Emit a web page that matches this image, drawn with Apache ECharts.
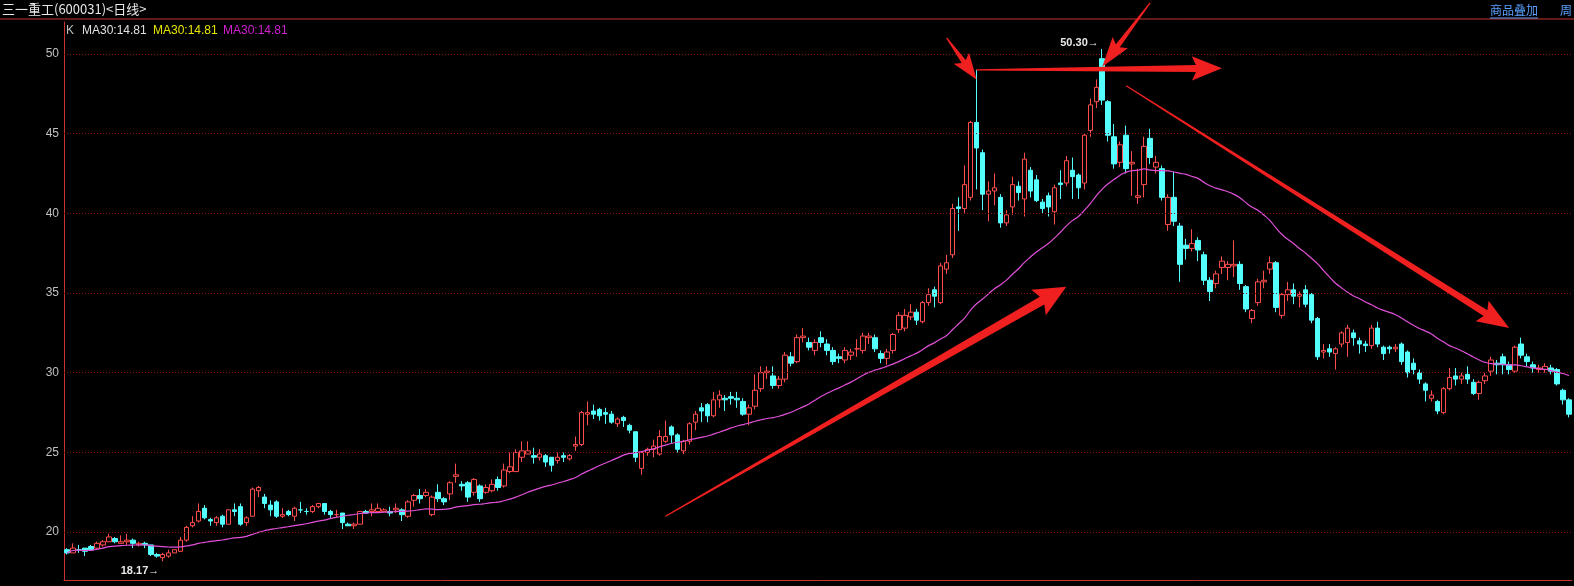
<!DOCTYPE html>
<html><head><meta charset="utf-8">
<script src="https://cdn.jsdelivr.net/npm/echarts@6/dist/echarts.min.js"></script>
<style>html,body{margin:0;padding:0;background:#000;}#c{width:1574px;height:586px;}</style>
</head><body><div id="c"></div>
<script>
// [open, close, low, high]
const ohlc = [
[18.9,18.7,18.6,19.0],[18.7,19.0,18.7,19.3],[18.9,18.9,18.7,19.2],[19.0,18.8,18.5,19.0],[19.1,18.9,18.9,19.2],[19.0,19.3,18.9,19.4],[19.2,19.4,19.1,19.5],[19.4,19.7,19.4,19.9],[19.6,19.4,19.3,19.7],[19.3,19.4,19.3,19.8],
[19.4,19.5,19.2,19.9],[19.5,19.3,19.0,19.6],[19.2,19.3,19.1,19.4],[19.3,19.2,19.0,19.4],[19.2,18.6,18.5,19.2],[18.6,18.5,18.4,18.7],[18.4,18.6,18.17,18.7],[18.5,18.7,18.4,18.9],[18.7,18.9,18.7,18.9],[18.8,19.5,18.8,19.7],
[19.5,20.3,19.4,20.4],[20.4,20.6,20.3,21.0],[20.7,21.3,20.6,21.8],[21.5,20.9,20.8,21.7],[20.8,20.7,20.4,20.9],[20.6,20.9,20.4,21.0],[21.0,20.5,20.3,21.1],[20.5,21.4,20.5,21.4],[21.4,21.3,21.0,21.8],[21.6,20.5,20.4,21.8],
[20.6,20.9,20.4,21.0],[21.0,22.7,21.0,22.8],[22.6,22.8,22.2,22.9],[22.2,21.8,21.5,22.4],[21.7,21.4,21.0,22.0],[21.9,21.0,20.9,22.0],[21.0,21.1,20.9,21.5],[21.3,21.1,21.0,21.4],[21.0,21.5,20.7,21.6],[21.4,21.4,21.2,21.9],
[21.3,21.3,21.1,21.5],[21.3,21.6,21.2,21.7],[21.6,21.8,21.5,21.8],[21.8,21.3,21.1,21.8],[21.3,21.1,20.9,21.4],[21.1,21.1,20.9,21.4],[21.2,20.6,20.2,21.2],[20.5,20.4,20.4,20.6],[20.4,20.5,20.2,20.6],[20.5,21.3,20.5,21.3],
[21.3,21.2,21.2,21.4],[21.3,21.4,21.0,21.8],[21.3,21.5,21.2,21.8],[21.3,21.4,21.3,21.5],[21.3,21.2,21.0,21.6],[21.4,21.5,21.2,21.8],
[21.4,21.1,20.7,21.5],[21.0,21.9,20.9,22.0],[22.0,22.3,21.6,22.4],[22.3,22.1,21.8,22.7],[22.3,22.5,22.2,22.7],[21.1,22.2,21.0,22.3],[22.5,22.1,21.9,23.0],[22.1,21.9,21.7,22.2],[22.4,23.1,22.0,23.2],[23.5,23.6,23.1,24.3],
[23.0,22.9,22.6,23.2],[23.1,22.2,21.9,23.2],[22.5,23.3,22.3,23.4],[22.9,22.1,21.9,23.0],[22.5,22.8,22.4,23.0],[22.6,23.0,22.5,23.3],[23.3,22.8,22.6,23.5],[22.9,23.9,22.8,24.3],[23.8,24.1,23.7,25.0],[23.8,25.0,23.8,25.2],
[24.7,25.1,24.4,25.7],[24.9,25.1,24.9,25.7],[24.8,24.7,24.3,25.3],[24.7,24.9,24.5,25.2],[24.8,24.4,24.1,24.9],[24.7,24.2,23.8,24.7],[24.5,24.7,24.3,25.0],[24.8,24.7,24.4,25.0],[24.6,24.8,24.5,24.9],[25.4,25.5,25.1,26.0],
[25.5,27.5,25.4,27.6],[27.4,27.5,26.7,28.2],[27.6,27.4,27.1,28.0],[27.7,27.3,27.0,27.8],[27.5,27.4,26.8,27.8],[27.4,26.9,26.8,27.6],[26.8,27.1,26.6,27.2],[27.2,27.0,26.6,27.3],[26.7,26.4,26.2,26.8],[26.3,24.7,24.4,26.3],
[24.0,25.0,23.6,25.1],[25.0,25.2,24.8,25.3],[25.2,25.4,24.7,25.8],[24.9,26.0,24.8,26.4],[25.7,26.0,25.6,27.0],[26.6,26.1,25.6,26.7],[26.1,25.2,25.0,26.2],[25.1,25.7,24.9,25.8],[25.7,26.8,25.5,26.9],[26.9,27.4,26.4,27.6],
[27.8,27.6,26.9,28.1],[28.0,27.3,26.9,28.1],[27.3,28.3,27.2,28.8],[28.3,28.6,27.8,28.9],[28.4,28.3,27.6,28.6],[28.5,28.4,28.0,28.8],[28.4,28.3,27.8,28.8],[28.2,27.4,27.3,28.4],[27.4,27.8,26.7,28.0],[27.9,28.9,27.7,29.9],
[29.0,30.0,28.8,30.4],[30.0,30.1,29.6,30.4],[29.8,29.2,29.0,30.4],[29.2,29.6,29.0,29.8],[29.6,31.1,29.4,31.3],[31.0,30.6,30.4,31.3],[30.7,32.2,30.6,32.4],[32.2,32.3,31.9,32.8],[31.9,31.6,31.4,32.2],[31.4,31.9,31.1,32.1],
[32.2,31.9,31.6,32.6],[31.8,31.4,31.1,32.1],[31.4,30.7,30.5,31.6],[31.0,30.9,30.6,31.2],[30.8,31.4,30.6,31.6],[31.1,31.3,30.8,31.5],[31.5,31.5,31.0,32.1],[31.4,32.3,31.2,32.5],[32.2,32.3,31.8,32.5],[32.2,31.5,31.3,32.4],
[31.2,30.9,30.6,31.4],[30.9,31.3,30.5,31.5],[31.4,32.4,31.2,32.5],
[32.7,33.6,32.5,33.8],[32.8,33.6,32.6,34.0],[33.5,33.8,33.3,34.3],[33.8,33.3,33.0,34.0],[33.2,34.4,33.1,34.5],[34.4,34.9,34.2,35.3],[35.2,34.8,34.1,35.4],
[34.4,36.7,34.3,36.9],[36.5,36.9,36.2,37.4],[37.4,40.3,37.2,40.6],[40.4,40.3,38.9,41.0],[40.3,41.8,40.0,43.0],[41.0,45.7,40.8,45.8],[45.7,44.1,41.5,49.0],[43.8,41.2,40.2,44.0],[41.2,41.4,39.5,42.0],[41.4,41.6,40.5,42.5],
[41.0,39.4,39.1,41.2],[39.4,39.9,39.2,40.2],[40.4,41.8,39.9,42.3],[41.7,41.3,40.8,42.0],[40.9,43.4,39.8,43.8],[42.7,41.4,41.0,42.9],[42.1,40.8,40.7,42.4],[40.7,40.3,40.0,40.9],[41.1,40.4,39.8,41.3],[40.1,41.6,39.3,41.8],
[41.9,41.8,40.9,42.7],[41.9,43.3,41.7,43.6],[42.7,42.3,40.9,43.5],[42.4,41.6,40.9,42.5],[41.9,44.9,41.5,45.0],[45.2,46.8,44.8,47.2],[47.0,47.9,46.6,48.4],[49.7,47.1,46.8,50.3],[47.0,44.9,44.5,47.1],[44.8,43.1,42.8,45.6],
[43.2,44.3,42.9,44.5],[44.9,42.8,42.5,45.5],[43.1,43.2,41.1,43.9],[41.0,41.1,40.6,42.8],[41.8,44.2,41.0,44.8],[44.7,43.5,43.1,45.3],[42.9,43.2,42.5,43.6],[42.8,41.0,40.8,43.0],[39.3,41.0,38.9,41.2],[41.0,39.5,39.2,42.6],
[39.2,36.8,35.7,39.4],[38.0,37.8,37.1,38.4],[37.8,38.1,37.6,39.0],[38.3,37.7,37.0,38.5],[37.4,35.8,35.5,37.6],[35.8,35.1,34.5,36.0],[35.6,36.2,35.3,36.4],[36.6,37.0,36.2,37.3],[36.6,36.8,35.8,37.0],[36.7,36.8,36.0,38.3],
[36.8,35.6,35.2,37.0],[35.4,34.0,33.8,35.5],[33.4,33.9,33.1,34.0],[34.4,35.7,34.2,35.9],[35.7,35.8,35.3,36.4],[36.5,36.9,36.2,37.3],[36.9,34.1,33.8,37.0],[33.6,34.9,33.4,35.0],[34.9,35.2,34.5,35.7],[35.2,34.8,34.3,35.6],
[34.8,34.9,34.1,35.1],[35.2,34.3,34.1,35.5],[34.9,33.3,33.1,35.0],[33.4,31.0,30.8,33.5],[31.3,31.4,30.9,31.8],[31.5,31.3,31.0,31.8],[31.2,31.5,30.2,31.6],[31.8,32.5,31.6,32.6],[31.9,32.8,31.0,33.0],[32.5,32.2,31.7,32.7],
[32.0,31.8,31.2,32.2],[31.8,31.7,31.3,32.0],[31.7,32.8,31.5,33.0],[32.8,31.8,31.6,33.2],[31.6,31.2,30.8,31.7],[31.6,31.5,31.2,31.7],[31.5,31.6,31.3,31.8],[31.8,30.7,30.5,31.9],[31.3,30.0,29.7,31.4],[30.6,30.2,29.9,30.9],
[30.0,29.6,29.3,30.2],[29.3,28.9,28.2,29.4],[28.4,28.6,28.2,28.9],[28.2,27.6,27.4,28.3],[27.5,29.0,27.4,29.1],[29.0,29.7,28.9,30.3],[29.8,29.6,29.2,30.3],[29.6,29.8,29.3,30.0],[29.9,29.6,29.3,30.4],[29.4,28.7,28.6,29.6],
[28.7,29.4,28.3,29.5],[29.5,29.8,29.3,30.0],[30.1,30.8,29.8,31.0],[30.6,30.5,29.9,30.8],[31.0,30.5,29.9,31.2],[30.5,30.2,29.9,30.7],[30.1,31.6,30.0,31.7],[31.8,31.1,30.9,32.2],[31.0,30.7,30.4,31.2],[30.5,30.3,30.0,30.7],
[30.2,30.3,30.0,30.5],[30.2,30.4,30.0,30.6],[30.3,30.1,29.9,30.5],[30.2,29.3,29.2,30.3],[28.9,28.3,28.0,29.0],[28.3,27.4,27.2,28.4]
];
const categories = ohlc.map((d, i) => 'D' + (i + 1));
const gridValues = [20, 25, 30, 35, 40, 45, 50];
const titleText = '三一重工(600031)<日线>';
const legendItems = ['K', 'MA30:14.81', 'MA30:14.81', 'MA30:14.81'];
const highLabel = '50.30';
const lowLabel = '18.17';
// arrows in data coords: [fromIndex, fromValue, toIndex, toValue, width, head]
const arrows = [
  [146.5, 51.0, 151.6, 48.4, 5, 22],
  [151.6, 49.0, 192.5, 49.1, 7, 26],
  [181.0, 53.2, 172.5, 49.2, 5, 26],
  [100.0, 21.0, 167.0, 35.4, 9, 28],
  [177.0, 48.0, 241.0, 32.8, 7, 28]
];

const closes = ohlc.map(d => d[1]);
const ma30 = closes.map((c, i) => {
  const s = Math.max(0, i - 29); let sum = 0;
  for (let k = s; k <= i; k++) sum += closes[k];
  return +(sum / (i - s + 1)).toFixed(2);
});

const chart = echarts.init(document.getElementById('c'));
chart.setOption({
  backgroundColor: '#000',
  animation: false,
  grid: { left: 64, right: 2, top: 22, bottom: 6 },
  xAxis: { type: 'category', data: categories, boundaryGap: true,
    axisLine: { lineStyle: { color: '#c83232', width: 1 } }, axisTick: { show: false }, axisLabel: { show: false } },
  yAxis: { type: 'value', min: 17, max: 52, interval: 1, scale: true,
    axisLine: { show: true, lineStyle: { color: '#c83232' } }, axisTick: { show: false }, splitLine: { show: false },
    axisLabel: { color: '#c0c0c0', fontSize: 12, fontFamily: 'Liberation Sans, Arial', margin: 5,
      formatter: v => (gridValues.indexOf(v) >= 0 ? String(v) : '') } },
  series: [
    { type: 'candlestick', data: ohlc.map(d => [d[0], d[1], d[2], d[3]]), barWidth: 5,
      itemStyle: { color: '#000', color0: '#54ffff', borderColor: '#ff4d4d', borderColor0: '#54ffff', borderWidth: 1 },
      markLine: { silent: true, symbol: 'none', label: { show: false },
        lineStyle: { color: '#8a1010', type: [1, 2], width: 1 },
        data: gridValues.map(v => ({ yAxis: v })) } },
    { type: 'line', data: ma30, symbol: 'none', smooth: true,
      lineStyle: { color: '#e050d8', width: 1.2 } }
  ]
});

function arrowPoly(a) {
  const p0 = chart.convertToPixel({ gridIndex: 0 }, [a[0], a[1]]);
  const p1 = chart.convertToPixel({ gridIndex: 0 }, [a[2], a[3]]);
  const dx = p1[0] - p0[0], dy = p1[1] - p0[1], L = Math.hypot(dx, dy);
  const ux = dx / L, uy = dy / L, nx = -uy, ny = ux;
  const w = a[4], hl = a[5], hw = w * 1.3 + 3;
  const bx = p1[0] - ux * hl, by = p1[1] - uy * hl;
  return [
    [p0[0] + nx * 0.6, p0[1] + ny * 0.6],
    [bx + nx * w / 2, by + ny * w / 2],
    [bx + nx * hw - ux * 4, by + ny * hw - uy * 4],
    [p1[0], p1[1]],
    [bx - nx * hw - ux * 4, by - ny * hw - uy * 4],
    [bx - nx * w / 2, by - ny * w / 2],
    [p0[0] - nx * 0.6, p0[1] - ny * 0.6]
  ];
}
const hiIdx = ohlc.findIndex(d => d[3] === 50.3);
const loIdx = ohlc.findIndex(d => d[2] === 18.17);
const hp = chart.convertToPixel({ gridIndex: 0 }, [hiIdx, 50.3]);
const lp = chart.convertToPixel({ gridIndex: 0 }, [loIdx, 18.17]);
const legendColors = ['#c0c0c0', '#e0e0e0', '#e6e600', '#d020d0'];
const legendX = [66, 82, 153, 223];
const graphics = [
  { type: 'line', shape: { x1: 0, y1: 19, x2: 1574, y2: 19 }, style: { stroke: '#c83232', lineWidth: 1 } },
  { type: 'text', x: 2, y: 3, style: { text: titleText, fill: '#e8e8e8', font: '13px "Noto Sans CJK SC", sans-serif' } },
  { type: 'text', x: 1490, y: 4, style: { text: '商品叠加', fill: '#5aa0ff', font: '12px "Noto Sans CJK SC", sans-serif' } },
  { type: 'line', shape: { x1: 1490, y1: 18, x2: 1538, y2: 18 }, style: { stroke: '#5aa0ff' } },
  { type: 'text', x: 1560, y: 4, style: { text: '周', fill: '#5aa0ff', font: '12px "Noto Sans CJK SC", sans-serif' } },
  { type: 'text', x: hp[0] - 42, y: hp[1] - 12, style: { text: highLabel + '→', fill: '#e8e8e8', font: 'bold 11px "Liberation Sans", sans-serif' } },
  { type: 'text', x: lp[0] - 42, y: lp[1] + 4, style: { text: lowLabel + '→', fill: '#e8e8e8', font: 'bold 11px "Liberation Sans", sans-serif' } }
];
legendItems.forEach((t, i) => graphics.push({ type: 'text', x: legendX[i], y: 25,
  style: { text: t, fill: legendColors[i], font: '12px "Liberation Sans", sans-serif' } }));
arrows.forEach(a => graphics.push({ type: 'polygon', shape: { points: arrowPoly(a) }, style: { fill: '#f02020' }, z: 100 }));
chart.setOption({ graphic: graphics });
</script></body></html>
